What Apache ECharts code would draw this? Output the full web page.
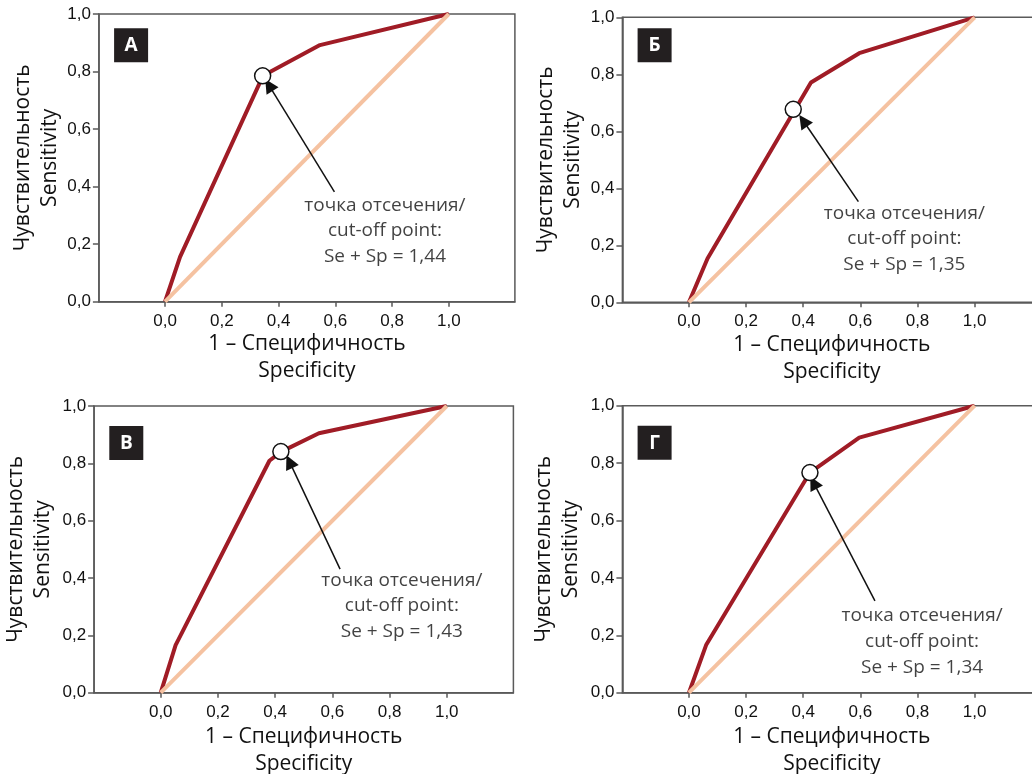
<!DOCTYPE html>
<html><head><meta charset="utf-8">
<script src="https://cdn.jsdelivr.net/npm/echarts@6/dist/echarts.min.js"></script>
<style>html,body{margin:0;padding:0;background:#fff}#c{width:1032px;height:774px}</style>
</head><body><div id="c"></div>
<script>
const tickValues = [0, 0.2, 0.4, 0.6, 0.8, 1.0];
const panelLetters = ['А', 'Б', 'В', 'Г'];
const diagonal = [[0, 0], [1, 1]];
const curveA = [[0, 0], [0.053, 0.156], [0.345, 0.785], [0.546, 0.892], [1, 1]];
const curveB = [[0, 0], [0.065, 0.154], [0.427, 0.771], [0.596, 0.874], [1, 1]];
const curveV = [[0, 0], [0.052, 0.166], [0.38, 0.809], [0.42, 0.84], [0.553, 0.905], [1, 1]];
const curveG = [[0, 0], [0.06, 0.166], [0.4235, 0.767], [0.596, 0.889], [1, 1]];
const cutoffPoints = [[0.344, 0.785], [0.365, 0.677], [0.42, 0.841], [0.4235, 0.767]];
const arrowStarts = [[0.597, 0.382], [0.593, 0.353], [0.627, 0.431], [0.651, 0.32]];
const arrowEnds = [[0.366, 0.753], [0.40, 0.637], [0.45, 0.806], [0.436, 0.732]];
const noteAnchors = [[0.775, 0.246], [0.754, 0.222], [0.843, 0.303], [0.816, 0.178]];
const seSpValues = ['1,44', '1,35', '1,43', '1,34'];
const curves = [curveA, curveB, curveV, curveG];

const grids = [
  {left: 98.9, top: 14, width: 416, height: 287.7},
  {left: 622.4, top: 17.3, width: 418.8, height: 285},
  {left: 94.1, top: 406, width: 419.3, height: 286.7},
  {left: 622.4, top: 405.7, width: 418.8, height: 287}
];
const yNameGaps = [33.7, 29.6, 37.3, 37.9];
const xNameGaps = [27.8, 27.5, 30.5, 30.5];

const fmt = v => v.toFixed(1).replace('.', ',');
const axisColor = '#5a5a5a';
const textColor = '#111';

const option = {
  animation: false,
  grid: grids.map(g => Object.assign({show: true, borderColor: axisColor, borderWidth: 1.5, outerBoundsMode: 'none', containLabel: false}, g)),
  xAxis: grids.map((g, i) => ({
    type: 'value', gridIndex: i, min: -0.233, max: 1.233,
    axisLine: {show: true, onZero: false, lineStyle: {color: axisColor, width: 1.5}},
    axisTick: {show: true, length: 5, customValues: tickValues, lineStyle: {color: axisColor, width: 1.5}},
    axisLabel: {customValues: tickValues, formatter: fmt, margin: 11, fontFamily: 'Liberation Sans', fontSize: 17, color: textColor},
    splitLine: {show: false},
    name: '1 – Специфичность\nSpecificity', nameLocation: 'middle', nameGap: xNameGaps[i],
    nameTextStyle: {fontFamily: 'Open Sans', fontSize: 21, lineHeight: 27, color: textColor}
  })),
  yAxis: grids.map((g, i) => ({
    type: 'value', gridIndex: i, min: 0, max: 1, interval: 0.2,
    axisLine: {show: true, onZero: false, lineStyle: {color: axisColor, width: 1.5}},
    axisTick: {show: true, length: 6, lineStyle: {color: axisColor, width: 1.5}},
    axisLabel: {formatter: fmt, margin: 8, fontFamily: 'Liberation Sans', fontSize: 17, color: textColor},
    splitLine: {show: false},
    name: 'Чувствительность\nSensitivity', nameLocation: 'middle', nameGap: yNameGaps[i],
    nameTextStyle: {fontFamily: 'Open Sans', fontSize: 21, lineHeight: 27, color: textColor}
  })),
  series: [],
  graphic: []
};

for (let i = 0; i < 4; i++) {
  option.series.push({
    type: 'line', xAxisIndex: i, yAxisIndex: i, data: curves[i], showSymbol: false, z: 2,
    lineStyle: {color: '#a01c26', width: 4}
  });
  option.series.push({
    type: 'line', xAxisIndex: i, yAxisIndex: i, data: diagonal, showSymbol: false, z: 3,
    lineStyle: {color: '#f5c2a1', width: 4}
  });
  option.series.push({
    type: 'lines', coordinateSystem: 'cartesian2d', xAxisIndex: i, yAxisIndex: i, z: 4,
    symbol: ['none', 'triangle'], symbolSize: [11, 14],
    lineStyle: {color: '#111', width: 1.5, opacity: 1, curveness: 0},
    itemStyle: {color: '#111'},
    data: [{coords: [arrowStarts[i], arrowEnds[i]]}]
  });
  option.series.push({
    type: 'scatter', xAxisIndex: i, yAxisIndex: i, z: 5, symbol: 'circle', symbolSize: 16,
    itemStyle: {color: '#fff', borderColor: '#111', borderWidth: 1.5, opacity: 1},
    data: [cutoffPoints[i]]
  });
  option.series.push({
    type: 'scatter', xAxisIndex: i, yAxisIndex: i, z: 5, symbolSize: 0,
    silent: true,
    label: {show: true, position: 'inside', formatter: 'точка отсечения/\ncut-off point:\nSe + Sp = ' + seSpValues[i],
      fontFamily: 'Open Sans', fontSize: 19, lineHeight: 25.7, color: textColor, align: 'center', verticalAlign: 'middle'},
    data: [noteAnchors[i]]
  });
  const g = grids[i];
  option.graphic.push({
    type: 'group', left: g.left + 15.2, top: g.top + (i < 2 ? (i === 0 ? 14.3 : 11) : 20),
    children: [
      {type: 'rect', shape: {x: 0, y: 0, width: 34, height: 34}, style: {fill: '#231f20'}},
      {type: 'text', x: 17, y: 17.5, style: {text: panelLetters[i], fill: '#fff', font: 'bold 19px "Open Sans"', align: 'center', verticalAlign: 'middle'}}
    ]
  });
}

const chart = echarts.init(document.getElementById('c'), null, {renderer: 'canvas'});
chart.setOption(option);
</script></body></html>
